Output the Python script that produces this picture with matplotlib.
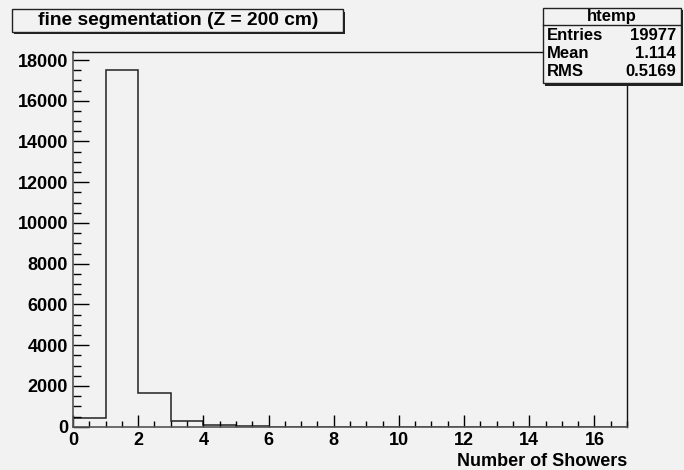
import numpy as np
import matplotlib
matplotlib.use("Agg")
import matplotlib.pyplot as plt
from matplotlib.patches import Rectangle
from matplotlib.ticker import MultipleLocator

# histogram content (bin width 1, from 0 to 17)
bin_edges = list(range(0, 18))
bin_counts = [410, 17525, 1655, 260, 70, 30, 5, 0, 0, 0, 0, 0, 0, 0, 0, 0, 0]

title_text = "fine segmentation (Z = 200 cm)"
x_label = "Number of Showers"
stats_name = "htemp"
stats_rows = [("Entries", "19977"), ("Mean", "1.114"), ("RMS", "0.5169")]

W, H = 684, 470
BG = "#f2f2f2"
FONT = ["Liberation Sans", "DejaVu Sans"]

plt.rcParams["font.family"] = FONT
plt.rcParams["font.weight"] = "bold"


def fx(px):
    return px / W


def fy(py):
    return 1 - py / H


fig = plt.figure(figsize=(W / 100, H / 100), dpi=100, facecolor=BG)
ax = fig.add_axes([fx(73), fy(426.7), fx(627) - fx(73), fy(52) - fy(426.7)])
ax.set_facecolor(BG)

ax.stairs(bin_counts, bin_edges, color="#222222", linewidth=1.1)
ax.set_xlim(0, 17)
ax.set_ylim(0, 18393)

ax.xaxis.set_major_locator(MultipleLocator(2))
ax.xaxis.set_minor_locator(MultipleLocator(0.5))
ax.yaxis.set_major_locator(MultipleLocator(2000))
ax.yaxis.set_minor_locator(MultipleLocator(500))
ax.tick_params(axis="x", which="major", direction="in", length=8.5, width=1, pad=3.5, labelsize=13)
ax.tick_params(axis="x", which="minor", direction="in", length=4, width=1)
ax.tick_params(axis="y", which="major", direction="in", length=11.5, width=1, pad=3.5, labelsize=13)
ax.tick_params(axis="y", which="minor", direction="in", length=5.5, width=1)
for lab in ax.get_xticklabels() + ax.get_yticklabels():
    lab.set_fontweight("bold")

for side in ["left", "bottom"]:
    ax.spines[side].set_color("#555555")
    ax.spines[side].set_linewidth(1.2)
for side in ["top", "right"]:
    ax.spines[side].set_color("#111111")
    ax.spines[side].set_linewidth(1)

ax.set_xlabel(x_label, fontsize=13, fontweight="bold", loc="right", labelpad=3)

# title box with shadow
fig.add_artist(Rectangle((fx(14), fy(34)), fx(345) - fx(14), fy(12) - fy(34),
                         transform=fig.transFigure, facecolor="#222222", edgecolor="none"))
fig.add_artist(Rectangle((fx(12), fy(31.5)), fx(343) - fx(12), fy(9) - fy(31.5),
                         transform=fig.transFigure, facecolor=BG, edgecolor="#222222", linewidth=1))
fig.text(fx(178), fy(20.5), title_text, ha="center", va="center", fontsize=13.8, fontweight="bold")

# stats box with shadow
fig.add_artist(Rectangle((fx(545), fy(85.5)), fx(683) - fx(545), fy(10) - fy(85.5),
                         transform=fig.transFigure, facecolor="#222222", edgecolor="none"))
fig.add_artist(Rectangle((fx(542.7), fy(83)), fx(680.7) - fx(542.7), fy(8) - fy(83),
                         transform=fig.transFigure, facecolor=BG, edgecolor="#222222", linewidth=1))
fig.add_artist(plt.Line2D([fx(542.7), fx(680.7)], [fy(25), fy(25)], transform=fig.transFigure,
                          color="#222222", linewidth=1))
fig.text(fx(611.7), fy(16), stats_name, ha="center", va="center", fontsize=12, fontweight="bold")
for i, (name, value) in enumerate(stats_rows):
    y = fy(35.5 + i * 18.2)
    fig.text(fx(547), y, name, ha="left", va="center", fontsize=12, fontweight="bold")
    fig.text(fx(676), y, value, ha="right", va="center", fontsize=12, fontweight="bold")

fig.savefig("out.png", dpi=100, facecolor=BG)
